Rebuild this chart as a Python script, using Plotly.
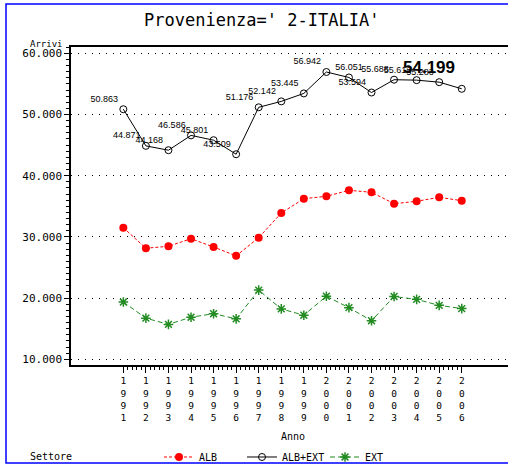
import numpy as np
import plotly.graph_objects as go

YEARS = list(range(1991, 2007))
ALB = [31503, 28150, 28464, 29706, 28350, 26900, 29869, 33905, 36242, 36634,
       37614, 37287, 35425, 35817, 36471, 35915]
TOT = [50863, 44871, 44168, 46586, 45801, 43509, 51176, 52142, 53445, 56942,
       56051, 53594, 55688, 55612, 55283, 54199]
EXT = [19360, 16721, 15704, 16880, 17451, 16609, 21307, 18237, 17203, 20308,
       18437, 16307, 20263, 19795, 18812, 18284]
Y_TICKS = [10000, 20000, 30000, 40000, 50000, 60000]
TITLE = "Provenienza=' 2-ITALIA'"

MONO = "DejaVu Sans Mono"
SANS = "Liberation Sans, Arial, sans-serif"

# label placement (style only)
lab_pos = ["top left"] * len(YEARS)
lab_pos[10] = "top center"
lab_text = ["{:,}".format(v).replace(",", ".") for v in TOT]
lab_text_main = lab_text[:-1] + [""]

fig = go.Figure()
fig.add_trace(go.Scatter(
    x=YEARS, y=ALB, name="ALB", mode="lines+markers",
    line=dict(color="#ff0000", width=1, dash="3px,2px"),
    marker=dict(symbol="circle", size=8, color="#ff0000"),
))
fig.add_trace(go.Scatter(
    x=YEARS, y=TOT, name="ALB+EXT", mode="lines+markers+text",
    line=dict(color="black", width=1),
    marker=dict(symbol="circle-open", size=7, color="black", line=dict(width=1)),
    text=lab_text_main, textposition=lab_pos,
    textfont=dict(family=SANS, size=9, color="black"),
))
fig.add_trace(go.Scatter(
    x=YEARS, y=EXT, name="EXT", mode="lines+markers",
    line=dict(color="#228B22", width=1, dash="5px,3px"),
    marker=dict(symbol="asterisk-open", size=8, color="#228B22",
                line=dict(width=1.5, color="#228B22")),
))

# big label for last point
fig.add_annotation(
    x=YEARS[-1], y=TOT[-1], text="<b>" + lab_text[-1] + "</b>", showarrow=False,
    xanchor="right", yanchor="bottom", xshift=-5, yshift=10,
    font=dict(family="Liberation Sans Narrow, Liberation Sans, Arial", size=17,
              color="black"),
)

minor_x = [v for v in np.round(np.arange(1991, 2006.001, 0.2), 1) if abs(v - round(v)) > 1e-6]

fig.update_layout(
    width=508, height=465,
    margin=dict(l=71, r=0, t=47, b=100, autoexpand=False),
    paper_bgcolor="white", plot_bgcolor="white",
    separators=",.",
    showlegend=True,
    legend=dict(orientation="h", x=0.2014, xanchor="left", y=-0.2893, yanchor="middle",
                entrywidth=38, font=dict(family=MONO, size=10, color="black"),
                bgcolor="rgba(0,0,0,0)", itemwidth=30),
    font=dict(family=MONO, color="black"),
)

fig.update_xaxes(
    range=[1988.68, 2008.05], automargin=False,
    showgrid=False, zeroline=False,
    showline=True, linecolor="black", linewidth=1.5, mirror=True,
    tickmode="array", tickvals=YEARS,
    ticktext=["<br>".join(str(y)) for y in YEARS],
    ticks="outside", ticklen=6, tickcolor="black", tickwidth=1,
    tickfont=dict(family=MONO, size=9.5, color="black"),
    minor=dict(tickvals=minor_x, ticks="outside", ticklen=3, tickcolor="black", tickwidth=1),
)
fig.update_yaxes(
    range=[9069, 61029], automargin=False,
    zeroline=False,
    showline=True, linecolor="black", linewidth=1.5, mirror=False,
    tickmode="array", tickvals=Y_TICKS, tickformat=",d",
    ticks="outside", ticklen=5, tickcolor="black", tickwidth=1,
    tickfont=dict(family=MONO, size=11, color="black"),
    showgrid=True, gridcolor="black", gridwidth=1, griddash="1px,6px",
    minor=dict(dtick=1000, tick0=0, ticks="outside", ticklen=3, tickcolor="black",
               tickwidth=1, showgrid=False),
)

# title and axis texts
fig.add_annotation(xref="paper", yref="paper", x=0.436, y=1.0849, text=TITLE,
                   showarrow=False, xanchor="center", yanchor="middle",
                   font=dict(family=MONO, size=17, color="black"))
fig.add_annotation(xref="paper", yref="paper", x=-0.0137, y=1.0094, text="Arrivi",
                   showarrow=False, xanchor="right", yanchor="middle",
                   font=dict(family=MONO, size=9, color="black"))
fig.add_annotation(xref="paper", yref="paper", x=0.5069, y=-0.2264, text="Anno",
                   showarrow=False, xanchor="center", yanchor="middle",
                   font=dict(family=MONO, size=10, color="black"))
fig.add_annotation(xref="paper", yref="paper", x=-0.0984, y=-0.2893, text="Settore",
                   showarrow=False, xanchor="left", yanchor="middle",
                   font=dict(family=MONO, size=10, color="black"))

# blue border
fig.add_shape(type="rect", xref="paper", yref="paper",
              x0=-0.1487, x1=1.01, y0=-0.3082, y1=1.1352,
              line=dict(color="blue", width=1.5), layer="above")

fig.write_html("out.html", config={"displayModeBar": False},
               post_script="document.body.style.margin='0';document.body.style.overflow='hidden';")
